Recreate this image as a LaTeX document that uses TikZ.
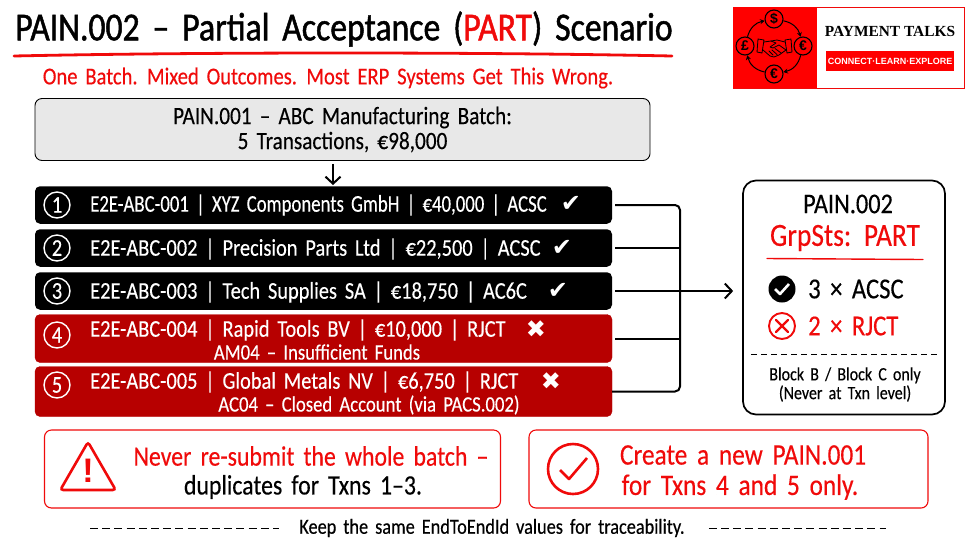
\documentclass[tikz,border=0pt]{standalone}
\usepackage{fontspec}
\usepackage{graphicx}
\setmainfont{Carlito}[WordSpace=1.7,FakeStretch=0.85,FakeBold=0.3]
\newfontfamily\headfont{Carlito}[WordSpace=1.7,FakeStretch=0.85,FakeBold=1.2]
\newfontfamily\symfont{DejaVu Sans}
\newfontfamily\logofont{Liberation Serif}
\newfontfamily\logosans{Liberation Sans}
\usetikzlibrary{shapes.geometric, arrows, arrows.meta}
\definecolor{sigRed}{HTML}{F00A0A}
\definecolor{rowRed}{HTML}{B70000}
\definecolor{boxGrey}{HTML}{E8E8E8}
\newcommand{\fs}[1]{\fontsize{#1}{#1}\selectfont}
\tikzstyle{rowNode} = [rectangle, minimum width=577pt, rounded corners=5pt, inner sep=0pt]
\tikzstyle{rowOk} = [rowNode, fill=black, minimum height=37.5pt]
\tikzstyle{rowRej} = [rowNode, fill=rowRed, draw=rowRed]
\tikzstyle{rowText} = [text=white, font=\fs{24}, anchor=west, inner sep=0pt]
\tikzstyle{rowNote} = [text=white, font=\fs{22}, inner sep=0pt]
\tikzstyle{rowNum} = [circle, draw=white, line width=1.4pt, text=white, minimum size=26pt, inner sep=0pt, font=\fs{24}]
\tikzstyle{rowMark} = [text=white, font=\symfont\fs{24}, inner sep=0pt]
\tikzstyle{alertBox} = [rectangle, draw=sigRed, line width=1.1pt, rounded corners=7pt, inner sep=0pt]
\tikzstyle{coin} = [circle, draw=black, line width=1.1pt, minimum size=18pt, inner sep=0pt, font=\logosans\bfseries\fs{14}]
\tikzstyle{arrow} = [line width=2pt,-{Straight Barb[length=7pt,width=15pt]},draw=black]
\tikzstyle{link} = [line width=2pt,draw=black]
\tikzstyle{coinArrow} = [line width=1pt,-{Stealth[length=4.5pt,width=5pt]},draw=black]
\begin{document}
\begin{tikzpicture}[x=1pt,y=-1pt,node distance=43pt]
        \useasboundingbox (0,0) rectangle (973,547);
        \fill[white] (0,0) rectangle (973,547);

        % heading
        \node (title) [font=\headfont\fs{39.6}, inner sep=0pt] at (344,29) {PAIN.002 – Partial Acceptance ({\color{sigRed}PART}) Scenario};
        \draw [sigRed, line width=2.8pt, line cap=round] (14,56) .. controls (200,52) and (480,52) .. (672,56);
        \node (subtitle) [font=\fs{24.2}, text=sigRed, inner sep=0pt] at (328,78) {One Batch. Mixed Outcomes. Most ERP Systems Get This Wrong.};

        % logo
        \node (logoBox) [rectangle, draw=sigRed, line width=0.8pt, minimum width=231pt, minimum height=81pt, inner sep=0pt] at (848.5,47.5) {};
        \node (logoRed) [rectangle, fill=red, minimum width=84pt, minimum height=81pt, inner sep=0pt] at (775,47.5) {};
        \node (logoName) [font=\logofont\bfseries\fs{15.4}, inner sep=0pt] at (890,31) {PAYMENT TALKS};
        \node (logoTag) [rectangle, fill=red, text=white, minimum width=128pt, minimum height=20pt, inner sep=0pt, font=\logosans\bfseries\fs{9}] at (890,61) {CONNECT\textperiodcentered LEARN\textperiodcentered EXPLORE};
        \node (coinTop) [coin] at (774,19) {\$};
        \node (coinRight) [coin] at (803,46) {€};
        \node (coinBottom) [coin] at (774,74) {€};
        \node (coinLeft) [coin] at (745,46) {£};
        \draw [coinArrow] (coinTop) to[bend left=32] (coinRight);
        \draw [coinArrow] (coinRight) to[bend left=32] (coinBottom);
        \draw [coinArrow] (coinBottom) to[bend left=32] (coinLeft);
        \draw [coinArrow] (coinLeft) to[bend left=32] (coinTop);
        \draw [line width=0.8pt, line join=round] (758,39) -- (764,40) -- (762,53) -- (757,52) -- cycle;
        \draw [line width=0.8pt, line join=round] (791,39) -- (785,40) -- (787,53) -- (792,52) -- cycle;
        \draw [line width=0.8pt, line join=round, line cap=round] (764,42) -- (771,41) -- (776,43) -- (770,47) -- (773,48) -- (779,45) -- (786,50);
        \draw [line width=0.8pt, line join=round, line cap=round] (785,42) -- (777,40) -- (771,41);
        \draw [line width=0.8pt, line join=round, line cap=round] (763,50) -- (770,56) -- (774,57) -- (779,55) -- (786,50);
        \draw [line width=0.8pt, line cap=round] (769,51) -- (773,55) (772,50) -- (777,54.5) (775,48.5) -- (781,53);

        % batch
        \node (batch) [rectangle, draw=black, fill=boxGrey, line width=0.9pt, rounded corners=7pt, minimum width=615pt, minimum height=62pt, inner sep=0pt, align=center, font=\fs{25}] at (342.5,129.5) {\fontsize{25}{26}\selectfont PAIN.001 -- ABC Manufacturing Batch:\\[0pt]5 Transactions, €98,000};

        % transactions
        \node (row1) [rowOk] at (323.5,205) {};
        \node (row2) [rowOk, below of=row1] {};
        \node (row3) [rowOk, below of=row2] {};
        \node (row4) [rowRej, minimum height=48pt, below of=row3, yshift=-4.5pt] {};
        \node (row5) [rowRej, minimum height=50pt, below of=row4, yshift=-10pt] {};

        \node (num1) [rowNum] at (57,205) {1};
        \node (num2) [rowNum] at (57,248) {2};
        \node (num3) [rowNum] at (57,291) {3};
        \node (num4) [rowNum] at (57,335) {4};
        \node (num5) [rowNum] at (57,385) {5};

        \node (text1) [rowText] at (90,205) {\scalebox{0.92}[1]{E2E-ABC-001 | XYZ Components GmbH | €40,000 | ACSC}};
        \node (text2) [rowText] at (90,249) {E2E-ABC-002 | Precision Parts Ltd | €22,500 | ACSC};
        \node (text3) [rowText] at (90,292) {E2E-ABC-003 | Tech Supplies SA | €18,750 | AC6C};
        \node (text4) [rowText] at (90,330) {E2E-ABC-004 | Rapid Tools BV | €10,000 | RJCT};
        \node (text5) [rowText] at (90,382) {E2E-ABC-005 | Global Metals NV | €6,750 | RJCT};
        \node (note4) [rowNote] at (317,352) {AM04 -- Insufficient Funds};
        \node (note5) [rowNote] at (369,405) {AC04 -- Closed Account (via PACS.002)};

        \node (mark1) [rowMark] at (571,204) {✔};
        \node (mark2) [rowMark] at (562,248) {✔};
        \node (mark3) [rowMark] at (558,291) {✔};
        \node (mark4) [rowMark] at (536,329) {✖};
        \node (mark5) [rowMark] at (551,381) {✖};

        % result
        \node (result) [rectangle, draw=black, line width=1.7pt, rounded corners=13pt, minimum width=202pt, minimum height=234pt, inner sep=0pt] at (844,297.5) {};
        \node (resName) [font=\fs{28.6}, inner sep=0pt] at (848,204) {PAIN.002};
        \node (resGrp) [font=\fs{32.3}, text=sigRed, inner sep=0pt] at (845,238) {GrpSts: PART};
        \draw [sigRed, line width=1.4pt, line cap=round] (767,258.5) -- (923,259.5);
        \node (okIcon) [circle, fill=black, minimum size=27pt, inner sep=0pt] at (782,289) {};
        \draw [white, line width=2.6pt, line join=round] ([shift={(-7,0)}]okIcon.center) -- ([shift={(-2,5)}]okIcon.center) -- ([shift={(7,-5)}]okIcon.center);
        \node (okText) [font=\fs{29}, anchor=west, inner sep=0pt] at (808,289) {3 × ACSC};
        \node (rejIcon) [circle, draw=sigRed, line width=1.9pt, minimum size=26pt, inner sep=0pt] at (782,326) {};
        \draw [sigRed, line width=2.2pt, line cap=round] ([shift={(-6,-6)}]rejIcon.center) -- ([shift={(6,6)}]rejIcon.center);
        \draw [sigRed, line width=2.2pt, line cap=round] ([shift={(6,-6)}]rejIcon.center) -- ([shift={(-6,6)}]rejIcon.center);
        \node (rejText) [font=\fs{29}, text=sigRed, anchor=west, inner sep=0pt] at (808,326) {2 × RJCT};
        \draw [line width=0.8pt, dash pattern=on 6pt off 4pt] (751,354) -- (939,354);
        \node (resNote) [font=\fs{18.8}, inner sep=0pt, align=center] at (845,384.5) {\fontsize{18.8}{21}\selectfont Block B / Block C only\\[0pt](Never at Txn level)};

        % connectors
        \coordinate (joint) at (680,291);
        \draw [link, rounded corners=5pt, shorten <=3pt] (row1.east) -| (joint) |- (row5.east);
        \draw [link, shorten <=3pt] (row2.east) -- (row2.east -| joint);
        \draw [link, shorten <=3pt] (row4.east) -- (row4.east -| joint);
        \draw [arrow, shorten <=3pt, shorten >=9pt] (row3.east) -- (row3.east -| result.west);
        \draw [arrow, shorten <=3pt, shorten >=1pt] ([xshift=-9.5pt]batch.south) -- ([xshift=-9.5pt]batch.south |- row1.north);

        % warnings
        \node (warnBox) [alertBox, minimum width=456pt, minimum height=78pt] at (272.5,469) {};
        \node (warnIcon) [regular polygon, regular polygon sides=3, draw=sigRed, line width=2.6pt, rounded corners=3pt, minimum size=64pt, inner sep=0pt] at (88,474) {};
        \node (warnMark) [text=sigRed, font=\logosans\bfseries\fs{34}, inner sep=0pt] at (88,471) {!};
        \node (warnTop) [font=\fs{28}, text=sigRed, inner sep=0pt] at (311,456) {Never re-submit the whole batch --};
        \node (warnBot) [font=\fs{28}, inner sep=0pt] at (303,487) {duplicates for Txns 1--3.};

        \node (fixBox) [alertBox, minimum width=399pt, minimum height=78pt] at (728.5,469) {};
        \node (fixIcon) [circle, draw=sigRed, line width=2.6pt, minimum size=50pt, inner sep=0pt] at (573,469) {};
        \draw [sigRed, line width=2.6pt, line join=round] ([shift={(-13,1)}]fixIcon.center) -- ([shift={(-4,10)}]fixIcon.center) -- ([shift={(14,-11)}]fixIcon.center);
        \node (fixTop) [font=\fs{29.8}, text=sigRed, inner sep=0pt] at (743,455) {Create a new PAIN.001};
        \node (fixBot) [font=\fs{29.8}, text=sigRed, inner sep=0pt] at (740,487) {for Txns 4 and 5 only.};

        % footer
        \node (footer) [font=\fs{21.5}, inner sep=0pt] at (492,528) {Keep the same EndToEndId values for traceability.};
        \draw [line width=0.9pt, dash pattern=on 8pt off 4.2pt] (90,528) -- ([xshift=-20pt]footer.west);
        \draw [line width=0.9pt, dash pattern=on 8pt off 4.2pt] ([xshift=24pt]footer.east) -- (886,528);
\end{tikzpicture}
\end{document}
